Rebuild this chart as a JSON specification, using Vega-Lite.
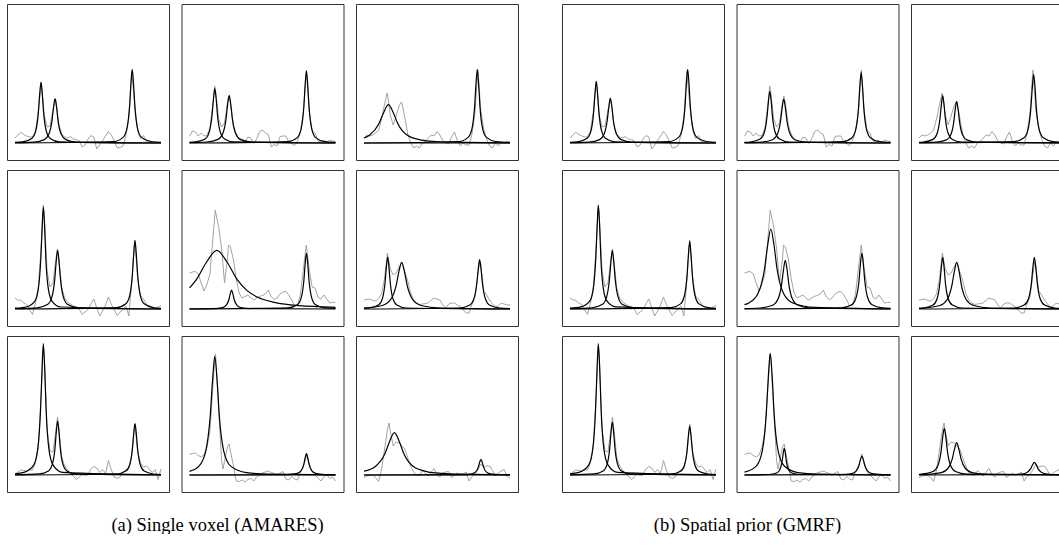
{
"$schema": "https://vega.github.io/schema/vega-lite/v6.json",
"padding": {"left": 6, "top": 3, "right": 0, "bottom": 0},
"background": "white",
"config": {"view": {"stroke": "#333333", "strokeWidth": 1}, "concat": {"spacing": 42}, "header": {"labels": false, "title": null, "labelPadding": 0, "titlePadding": 0, "labelFontSize": 0}},
"datasets": {"s": [
{"m":"g","p":1,"x":0,"y":5},{"m":"g","p":1,"x":2,"y":8},{"m":"g","p":1,"x":4,"y":10.7},{"m":"g","p":1,"x":6,"y":8.5},{"m":"g","p":1,"x":8,"y":7},{"m":"g","p":1,"x":10,"y":6},{"m":"g","p":1,"x":12,"y":6},{"m":"g","p":1,"x":14,"y":12},{"m":"g","p":1,"x":16,"y":32},{"m":"g","p":1,"x":18,"y":61},{"m":"g","p":1,"x":20,"y":28},{"m":"g","p":1,"x":22,"y":16},{"m":"g","p":1,"x":24,"y":17},{"m":"g","p":1,"x":26,"y":33},{"m":"g","p":1,"x":28,"y":43},{"m":"g","p":1,"x":30,"y":19},{"m":"g","p":1,"x":32,"y":9},{"m":"g","p":1,"x":34,"y":6},{"m":"g","p":1,"x":36,"y":5},{"m":"g","p":1,"x":38,"y":6.5},{"m":"g","p":1,"x":40,"y":4},{"m":"g","p":1,"x":42,"y":3.5},{"m":"g","p":1,"x":44,"y":2},{"m":"g","p":1,"x":46,"y":-4},{"m":"g","p":1,"x":48,"y":-2},{"m":"g","p":1,"x":50,"y":4},{"m":"g","p":1,"x":52,"y":7.5},{"m":"g","p":1,"x":54,"y":6},{"m":"g","p":1,"x":56,"y":-6},{"m":"g","p":1,"x":58,"y":-2},{"m":"g","p":1,"x":60,"y":2.5},{"m":"g","p":1,"x":62,"y":7},{"m":"g","p":1,"x":64,"y":11.5},{"m":"g","p":1,"x":66,"y":8},{"m":"g","p":1,"x":68,"y":2},{"m":"g","p":1,"x":70,"y":-5},{"m":"g","p":1,"x":72,"y":-4.5},{"m":"g","p":1,"x":74,"y":-3},{"m":"g","p":1,"x":76,"y":8},{"m":"g","p":1,"x":78,"y":26},{"m":"g","p":1,"x":80,"y":72},{"m":"g","p":1,"x":82,"y":38},{"m":"g","p":1,"x":84,"y":13},{"m":"g","p":1,"x":86,"y":4.5},{"m":"g","p":1,"x":88,"y":7.5},{"m":"g","p":1,"x":90,"y":1},{"m":"g","p":1,"x":92,"y":2},{"m":"g","p":1,"x":94,"y":-1},{"m":"g","p":1,"x":96,"y":1.5},{"m":"g","p":1,"x":98,"y":0},{"m":"g","p":1,"x":100,"y":0.5},
{"m":"g","p":2,"x":0,"y":6.7},{"m":"g","p":2,"x":2,"y":12},{"m":"g","p":2,"x":4,"y":11},{"m":"g","p":2,"x":6,"y":7},{"m":"g","p":2,"x":8,"y":10},{"m":"g","p":2,"x":10,"y":7},{"m":"g","p":2,"x":12,"y":7.5},{"m":"g","p":2,"x":14,"y":15},{"m":"g","p":2,"x":16,"y":39},{"m":"g","p":2,"x":17.3,"y":57},{"m":"g","p":2,"x":18,"y":51},{"m":"g","p":2,"x":20,"y":24},{"m":"g","p":2,"x":22,"y":16},{"m":"g","p":2,"x":24,"y":20},{"m":"g","p":2,"x":26,"y":41},{"m":"g","p":2,"x":27,"y":47},{"m":"g","p":2,"x":28,"y":40},{"m":"g","p":2,"x":30,"y":18},{"m":"g","p":2,"x":32,"y":9},{"m":"g","p":2,"x":34,"y":3.3},{"m":"g","p":2,"x":36,"y":2},{"m":"g","p":2,"x":38,"y":1},{"m":"g","p":2,"x":40,"y":6},{"m":"g","p":2,"x":42,"y":5},{"m":"g","p":2,"x":44,"y":-0.5},{"m":"g","p":2,"x":46,"y":4},{"m":"g","p":2,"x":48,"y":11.5},{"m":"g","p":2,"x":50,"y":13},{"m":"g","p":2,"x":52,"y":10},{"m":"g","p":2,"x":54,"y":8.5},{"m":"g","p":2,"x":56,"y":-4},{"m":"g","p":2,"x":58,"y":-1.5},{"m":"g","p":2,"x":60,"y":-3},{"m":"g","p":2,"x":62,"y":6.5},{"m":"g","p":2,"x":64,"y":7},{"m":"g","p":2,"x":66,"y":7},{"m":"g","p":2,"x":68,"y":1},{"m":"g","p":2,"x":70,"y":-0.5},{"m":"g","p":2,"x":72,"y":-2.5},{"m":"g","p":2,"x":74,"y":2},{"m":"g","p":2,"x":76,"y":12},{"m":"g","p":2,"x":78,"y":31},{"m":"g","p":2,"x":80,"y":73},{"m":"g","p":2,"x":82,"y":32},{"m":"g","p":2,"x":84,"y":12},{"m":"g","p":2,"x":86,"y":10},{"m":"g","p":2,"x":88,"y":2},{"m":"g","p":2,"x":90,"y":1},{"m":"g","p":2,"x":92,"y":2.5},{"m":"g","p":2,"x":94,"y":0.5},{"m":"g","p":2,"x":96,"y":3},{"m":"g","p":2,"x":98,"y":2},{"m":"g","p":2,"x":100,"y":1.5},
{"m":"g","p":3,"x":0,"y":5},{"m":"g","p":3,"x":2,"y":8},{"m":"g","p":3,"x":4,"y":7},{"m":"g","p":3,"x":6,"y":8},{"m":"g","p":3,"x":8,"y":10},{"m":"g","p":3,"x":10,"y":13},{"m":"g","p":3,"x":12,"y":24},{"m":"g","p":3,"x":14,"y":38},{"m":"g","p":3,"x":15.8,"y":50},{"m":"g","p":3,"x":16,"y":49.5},{"m":"g","p":3,"x":18,"y":28},{"m":"g","p":3,"x":20,"y":18},{"m":"g","p":3,"x":22,"y":27},{"m":"g","p":3,"x":24,"y":37},{"m":"g","p":3,"x":25.5,"y":41},{"m":"g","p":3,"x":26,"y":40},{"m":"g","p":3,"x":28,"y":25},{"m":"g","p":3,"x":30,"y":9},{"m":"g","p":3,"x":32,"y":0},{"m":"g","p":3,"x":34,"y":-5},{"m":"g","p":3,"x":36,"y":-3},{"m":"g","p":3,"x":38,"y":-5},{"m":"g","p":3,"x":40,"y":0},{"m":"g","p":3,"x":42,"y":1.5},{"m":"g","p":3,"x":44,"y":5},{"m":"g","p":3,"x":46,"y":8},{"m":"g","p":3,"x":48,"y":7},{"m":"g","p":3,"x":50,"y":11.5},{"m":"g","p":3,"x":52,"y":8},{"m":"g","p":3,"x":54,"y":2},{"m":"g","p":3,"x":56,"y":0},{"m":"g","p":3,"x":58,"y":-1},{"m":"g","p":3,"x":60,"y":6},{"m":"g","p":3,"x":62,"y":11},{"m":"g","p":3,"x":64,"y":2},{"m":"g","p":3,"x":66,"y":-3},{"m":"g","p":3,"x":68,"y":0},{"m":"g","p":3,"x":70,"y":-2},{"m":"g","p":3,"x":72,"y":-2},{"m":"g","p":3,"x":74,"y":9},{"m":"g","p":3,"x":76,"y":30},{"m":"g","p":3,"x":78,"y":73},{"m":"g","p":3,"x":80,"y":33},{"m":"g","p":3,"x":82,"y":14},{"m":"g","p":3,"x":84,"y":4},{"m":"g","p":3,"x":86,"y":-3},{"m":"g","p":3,"x":88,"y":-5},{"m":"g","p":3,"x":90,"y":0},{"m":"g","p":3,"x":92,"y":-3},{"m":"g","p":3,"x":94,"y":1},{"m":"g","p":3,"x":96,"y":0},{"m":"g","p":3,"x":98,"y":2},{"m":"g","p":3,"x":100,"y":1},
{"m":"g","p":4,"x":0,"y":11},{"m":"g","p":4,"x":2,"y":9},{"m":"g","p":4,"x":4,"y":8.7},{"m":"g","p":4,"x":6,"y":6},{"m":"g","p":4,"x":8,"y":4.5},{"m":"g","p":4,"x":10,"y":-1},{"m":"g","p":4,"x":12,"y":-5.5},{"m":"g","p":4,"x":14,"y":6},{"m":"g","p":4,"x":16,"y":22},{"m":"g","p":4,"x":18,"y":64},{"m":"g","p":4,"x":19.4,"y":104},{"m":"g","p":4,"x":20,"y":95},{"m":"g","p":4,"x":22,"y":38},{"m":"g","p":4,"x":24,"y":22},{"m":"g","p":4,"x":26,"y":26},{"m":"g","p":4,"x":28,"y":50},{"m":"g","p":4,"x":29,"y":60},{"m":"g","p":4,"x":30,"y":49},{"m":"g","p":4,"x":32,"y":21},{"m":"g","p":4,"x":34,"y":11},{"m":"g","p":4,"x":36,"y":7},{"m":"g","p":4,"x":38,"y":5},{"m":"g","p":4,"x":40,"y":3},{"m":"g","p":4,"x":42,"y":2.5},{"m":"g","p":4,"x":44,"y":0},{"m":"g","p":4,"x":46,"y":-5.5},{"m":"g","p":4,"x":48,"y":-3},{"m":"g","p":4,"x":50,"y":-0.5},{"m":"g","p":4,"x":52,"y":5},{"m":"g","p":4,"x":54,"y":10},{"m":"g","p":4,"x":56,"y":1},{"m":"g","p":4,"x":58,"y":-7},{"m":"g","p":4,"x":60,"y":-2},{"m":"g","p":4,"x":62,"y":4},{"m":"g","p":4,"x":64,"y":12},{"m":"g","p":4,"x":66,"y":4.5},{"m":"g","p":4,"x":68,"y":-1},{"m":"g","p":4,"x":70,"y":-6.5},{"m":"g","p":4,"x":72,"y":-3},{"m":"g","p":4,"x":74,"y":0},{"m":"g","p":4,"x":76,"y":3},{"m":"g","p":4,"x":78,"y":-7},{"m":"g","p":4,"x":80,"y":28},{"m":"g","p":4,"x":82,"y":69},{"m":"g","p":4,"x":84,"y":31},{"m":"g","p":4,"x":86,"y":13},{"m":"g","p":4,"x":88,"y":10},{"m":"g","p":4,"x":90,"y":5},{"m":"g","p":4,"x":92,"y":2},{"m":"g","p":4,"x":94,"y":1.5},{"m":"g","p":4,"x":96,"y":0.5},{"m":"g","p":4,"x":98,"y":2},{"m":"g","p":4,"x":100,"y":3.5},
{"m":"g","p":5,"x":0,"y":36},{"m":"g","p":5,"x":2,"y":37},{"m":"g","p":5,"x":4,"y":37.5},{"m":"g","p":5,"x":6,"y":35},{"m":"g","p":5,"x":8,"y":26},{"m":"g","p":5,"x":10,"y":18},{"m":"g","p":5,"x":12,"y":25},{"m":"g","p":5,"x":14,"y":35},{"m":"g","p":5,"x":16,"y":70},{"m":"g","p":5,"x":17.6,"y":98.7},{"m":"g","p":5,"x":18,"y":96},{"m":"g","p":5,"x":20,"y":82},{"m":"g","p":5,"x":22,"y":60},{"m":"g","p":5,"x":24,"y":26},{"m":"g","p":5,"x":26,"y":50},{"m":"g","p":5,"x":26.7,"y":64},{"m":"g","p":5,"x":28,"y":62},{"m":"g","p":5,"x":30,"y":50},{"m":"g","p":5,"x":32,"y":30},{"m":"g","p":5,"x":34,"y":16},{"m":"g","p":5,"x":36,"y":11},{"m":"g","p":5,"x":38,"y":12.5},{"m":"g","p":5,"x":40,"y":14},{"m":"g","p":5,"x":42,"y":11},{"m":"g","p":5,"x":44,"y":9},{"m":"g","p":5,"x":46,"y":11},{"m":"g","p":5,"x":48,"y":12.7},{"m":"g","p":5,"x":50,"y":13.5},{"m":"g","p":5,"x":52,"y":15},{"m":"g","p":5,"x":54,"y":19},{"m":"g","p":5,"x":56,"y":12},{"m":"g","p":5,"x":58,"y":9.5},{"m":"g","p":5,"x":60,"y":11},{"m":"g","p":5,"x":62,"y":15},{"m":"g","p":5,"x":64,"y":17},{"m":"g","p":5,"x":66,"y":17.7},{"m":"g","p":5,"x":68,"y":14},{"m":"g","p":5,"x":70,"y":9},{"m":"g","p":5,"x":72,"y":3},{"m":"g","p":5,"x":74,"y":3.5},{"m":"g","p":5,"x":76,"y":15},{"m":"g","p":5,"x":78,"y":40},{"m":"g","p":5,"x":80,"y":64},{"m":"g","p":5,"x":82,"y":40},{"m":"g","p":5,"x":84,"y":22},{"m":"g","p":5,"x":86,"y":21},{"m":"g","p":5,"x":88,"y":12},{"m":"g","p":5,"x":90,"y":10},{"m":"g","p":5,"x":92,"y":14},{"m":"g","p":5,"x":94,"y":10},{"m":"g","p":5,"x":96,"y":6},{"m":"g","p":5,"x":98,"y":6.5},{"m":"g","p":5,"x":100,"y":6.7},
{"m":"g","p":6,"x":0,"y":9},{"m":"g","p":6,"x":2,"y":9.5},{"m":"g","p":6,"x":4,"y":10},{"m":"g","p":6,"x":6,"y":8.5},{"m":"g","p":6,"x":8,"y":8},{"m":"g","p":6,"x":10,"y":10.5},{"m":"g","p":6,"x":12,"y":15},{"m":"g","p":6,"x":14,"y":30},{"m":"g","p":6,"x":16,"y":56},{"m":"g","p":6,"x":18,"y":40},{"m":"g","p":6,"x":20,"y":34},{"m":"g","p":6,"x":22,"y":36},{"m":"g","p":6,"x":24,"y":42},{"m":"g","p":6,"x":26,"y":47},{"m":"g","p":6,"x":28,"y":37},{"m":"g","p":6,"x":30,"y":28},{"m":"g","p":6,"x":32,"y":16},{"m":"g","p":6,"x":34,"y":9},{"m":"g","p":6,"x":36,"y":6},{"m":"g","p":6,"x":38,"y":4.5},{"m":"g","p":6,"x":40,"y":5},{"m":"g","p":6,"x":42,"y":5.5},{"m":"g","p":6,"x":44,"y":6},{"m":"g","p":6,"x":46,"y":9},{"m":"g","p":6,"x":48,"y":11},{"m":"g","p":6,"x":50,"y":10},{"m":"g","p":6,"x":52,"y":9},{"m":"g","p":6,"x":54,"y":4},{"m":"g","p":6,"x":56,"y":1},{"m":"g","p":6,"x":58,"y":5},{"m":"g","p":6,"x":60,"y":6},{"m":"g","p":6,"x":62,"y":6},{"m":"g","p":6,"x":64,"y":4},{"m":"g","p":6,"x":66,"y":2.5},{"m":"g","p":6,"x":68,"y":-1},{"m":"g","p":6,"x":70,"y":-4},{"m":"g","p":6,"x":72,"y":-4},{"m":"g","p":6,"x":74,"y":5},{"m":"g","p":6,"x":76,"y":12},{"m":"g","p":6,"x":78,"y":34},{"m":"g","p":6,"x":79.2,"y":47},{"m":"g","p":6,"x":80,"y":44},{"m":"g","p":6,"x":82,"y":18},{"m":"g","p":6,"x":84,"y":14},{"m":"g","p":6,"x":86,"y":9},{"m":"g","p":6,"x":88,"y":5},{"m":"g","p":6,"x":90,"y":2},{"m":"g","p":6,"x":92,"y":3},{"m":"g","p":6,"x":94,"y":6},{"m":"g","p":6,"x":96,"y":5},{"m":"g","p":6,"x":98,"y":4},{"m":"g","p":6,"x":100,"y":4},
{"m":"g","p":7,"x":0,"y":0.7},{"m":"g","p":7,"x":2,"y":3},{"m":"g","p":7,"x":4,"y":5},{"m":"g","p":7,"x":6,"y":4.5},{"m":"g","p":7,"x":8,"y":4},{"m":"g","p":7,"x":10,"y":5},{"m":"g","p":7,"x":12,"y":5},{"m":"g","p":7,"x":14,"y":13},{"m":"g","p":7,"x":16,"y":29},{"m":"g","p":7,"x":18,"y":82},{"m":"g","p":7,"x":19.4,"y":132},{"m":"g","p":7,"x":20,"y":119},{"m":"g","p":7,"x":22,"y":46},{"m":"g","p":7,"x":24,"y":24},{"m":"g","p":7,"x":26,"y":23},{"m":"g","p":7,"x":28,"y":45},{"m":"g","p":7,"x":29.1,"y":58},{"m":"g","p":7,"x":30,"y":47},{"m":"g","p":7,"x":32,"y":18},{"m":"g","p":7,"x":34,"y":9},{"m":"g","p":7,"x":36,"y":5},{"m":"g","p":7,"x":38,"y":1},{"m":"g","p":7,"x":40,"y":-1},{"m":"g","p":7,"x":42,"y":-4.5},{"m":"g","p":7,"x":44,"y":-2},{"m":"g","p":7,"x":46,"y":0.5},{"m":"g","p":7,"x":48,"y":-0.5},{"m":"g","p":7,"x":50,"y":0},{"m":"g","p":7,"x":52,"y":6},{"m":"g","p":7,"x":54,"y":8.5},{"m":"g","p":7,"x":56,"y":7},{"m":"g","p":7,"x":58,"y":2.5},{"m":"g","p":7,"x":60,"y":5.5},{"m":"g","p":7,"x":62,"y":1.5},{"m":"g","p":7,"x":64,"y":14.5},{"m":"g","p":7,"x":66,"y":5},{"m":"g","p":7,"x":68,"y":-2},{"m":"g","p":7,"x":70,"y":-3.5},{"m":"g","p":7,"x":72,"y":-2},{"m":"g","p":7,"x":74,"y":3},{"m":"g","p":7,"x":76,"y":5},{"m":"g","p":7,"x":78,"y":7},{"m":"g","p":7,"x":80,"y":21},{"m":"g","p":7,"x":82,"y":51},{"m":"g","p":7,"x":84,"y":23},{"m":"g","p":7,"x":86,"y":12},{"m":"g","p":7,"x":88,"y":8},{"m":"g","p":7,"x":90,"y":9},{"m":"g","p":7,"x":92,"y":6},{"m":"g","p":7,"x":94,"y":2.5},{"m":"g","p":7,"x":96,"y":5.5},{"m":"g","p":7,"x":98,"y":-4.5},{"m":"g","p":7,"x":100,"y":6},
{"m":"g","p":8,"x":0,"y":20.7},{"m":"g","p":8,"x":2,"y":21.5},{"m":"g","p":8,"x":4,"y":22},{"m":"g","p":8,"x":6,"y":19.5},{"m":"g","p":8,"x":8,"y":18},{"m":"g","p":8,"x":10,"y":20},{"m":"g","p":8,"x":12,"y":28},{"m":"g","p":8,"x":14,"y":44},{"m":"g","p":8,"x":16,"y":88},{"m":"g","p":8,"x":17.6,"y":121},{"m":"g","p":8,"x":18,"y":118},{"m":"g","p":8,"x":20,"y":66},{"m":"g","p":8,"x":22,"y":14},{"m":"g","p":8,"x":23,"y":6},{"m":"g","p":8,"x":24,"y":14},{"m":"g","p":8,"x":26,"y":28},{"m":"g","p":8,"x":27.2,"y":31},{"m":"g","p":8,"x":28,"y":24},{"m":"g","p":8,"x":30,"y":10},{"m":"g","p":8,"x":32,"y":-6},{"m":"g","p":8,"x":34,"y":-6.5},{"m":"g","p":8,"x":36,"y":-5},{"m":"g","p":8,"x":38,"y":-7},{"m":"g","p":8,"x":40,"y":-4.5},{"m":"g","p":8,"x":42,"y":-3.5},{"m":"g","p":8,"x":44,"y":-6},{"m":"g","p":8,"x":46,"y":-2},{"m":"g","p":8,"x":48,"y":0},{"m":"g","p":8,"x":50,"y":2.5},{"m":"g","p":8,"x":52,"y":3},{"m":"g","p":8,"x":54,"y":4},{"m":"g","p":8,"x":56,"y":2.5},{"m":"g","p":8,"x":58,"y":1.5},{"m":"g","p":8,"x":60,"y":-0.5},{"m":"g","p":8,"x":62,"y":2},{"m":"g","p":8,"x":64,"y":3.5},{"m":"g","p":8,"x":66,"y":-4},{"m":"g","p":8,"x":68,"y":-5},{"m":"g","p":8,"x":70,"y":-1.5},{"m":"g","p":8,"x":72,"y":-4},{"m":"g","p":8,"x":74,"y":-5},{"m":"g","p":8,"x":76,"y":3},{"m":"g","p":8,"x":78,"y":9},{"m":"g","p":8,"x":80,"y":18},{"m":"g","p":8,"x":80.4,"y":21},{"m":"g","p":8,"x":82,"y":12},{"m":"g","p":8,"x":84,"y":3},{"m":"g","p":8,"x":86,"y":0},{"m":"g","p":8,"x":88,"y":-3},{"m":"g","p":8,"x":90,"y":-6},{"m":"g","p":8,"x":92,"y":-2},{"m":"g","p":8,"x":94,"y":0.5},{"m":"g","p":8,"x":96,"y":-3.5},{"m":"g","p":8,"x":98,"y":-2},{"m":"g","p":8,"x":100,"y":-6},
{"m":"g","p":9,"x":0,"y":-2.7},{"m":"g","p":9,"x":2,"y":-1},{"m":"g","p":9,"x":4,"y":-0.5},{"m":"g","p":9,"x":6,"y":0},{"m":"g","p":9,"x":8,"y":-2.7},{"m":"g","p":9,"x":10,"y":-6.5},{"m":"g","p":9,"x":12,"y":5},{"m":"g","p":9,"x":14,"y":25},{"m":"g","p":9,"x":16,"y":45},{"m":"g","p":9,"x":17.2,"y":52},{"m":"g","p":9,"x":18,"y":44},{"m":"g","p":9,"x":20,"y":29},{"m":"g","p":9,"x":22,"y":33},{"m":"g","p":9,"x":24,"y":32},{"m":"g","p":9,"x":26,"y":29},{"m":"g","p":9,"x":28,"y":26},{"m":"g","p":9,"x":30,"y":17},{"m":"g","p":9,"x":32,"y":9},{"m":"g","p":9,"x":34,"y":3},{"m":"g","p":9,"x":36,"y":0},{"m":"g","p":9,"x":38,"y":-0.5},{"m":"g","p":9,"x":40,"y":4.5},{"m":"g","p":9,"x":42,"y":2},{"m":"g","p":9,"x":44,"y":-1},{"m":"g","p":9,"x":46,"y":3},{"m":"g","p":9,"x":48,"y":6.5},{"m":"g","p":9,"x":50,"y":0},{"m":"g","p":9,"x":52,"y":-2},{"m":"g","p":9,"x":54,"y":2},{"m":"g","p":9,"x":56,"y":3},{"m":"g","p":9,"x":58,"y":3.5},{"m":"g","p":9,"x":60,"y":-2.5},{"m":"g","p":9,"x":62,"y":0},{"m":"g","p":9,"x":64,"y":2},{"m":"g","p":9,"x":66,"y":0},{"m":"g","p":9,"x":68,"y":1},{"m":"g","p":9,"x":70,"y":3},{"m":"g","p":9,"x":72,"y":-6},{"m":"g","p":9,"x":74,"y":-1.5},{"m":"g","p":9,"x":76,"y":1},{"m":"g","p":9,"x":78,"y":5},{"m":"g","p":9,"x":80,"y":11},{"m":"g","p":9,"x":82,"y":8},{"m":"g","p":9,"x":84,"y":9},{"m":"g","p":9,"x":86,"y":9},{"m":"g","p":9,"x":88,"y":4.5},{"m":"g","p":9,"x":90,"y":-1},{"m":"g","p":9,"x":92,"y":2},{"m":"g","p":9,"x":94,"y":4},{"m":"g","p":9,"x":96,"y":5.5},{"m":"g","p":9,"x":98,"y":-1},{"m":"g","p":9,"x":100,"y":-3.5},

{"m":"a","p":1,"k":1,"x":0,"y":0.6},{"m":"a","p":1,"k":1,"x":5.2,"y":1.2},{"m":"a","p":1,"k":1,"x":11.5,"y":4.6},{"m":"a","p":1,"k":1,"x":14.2,"y":12.1},{"m":"a","p":1,"k":1,"x":16,"y":30.4},{"m":"a","p":1,"k":1,"x":16.9,"y":48.6},{"m":"a","p":1,"k":1,"x":17.8,"y":60.7},{"m":"a","p":1,"k":1,"x":18.7,"y":48.6},{"m":"a","p":1,"k":1,"x":19.6,"y":30.4},{"m":"a","p":1,"k":1,"x":21.4,"y":12.1},{"m":"a","p":1,"k":1,"x":24.1,"y":4.6},{"m":"a","p":1,"k":1,"x":30.4,"y":1.2},{"m":"a","p":1,"k":1,"x":100,"y":0},
{"m":"a","p":1,"k":2,"x":0,"y":0.3},{"m":"a","p":1,"k":2,"x":12.7,"y":0.9},{"m":"a","p":1,"k":2,"x":20.1,"y":3.4},{"m":"a","p":1,"k":2,"x":23.2,"y":8.9},{"m":"a","p":1,"k":2,"x":25.3,"y":22.2},{"m":"a","p":1,"k":2,"x":26.4,"y":35.5},{"m":"a","p":1,"k":2,"x":27.4,"y":44.4},{"m":"a","p":1,"k":2,"x":28.5,"y":35.5},{"m":"a","p":1,"k":2,"x":29.5,"y":22.2},{"m":"a","p":1,"k":2,"x":31.6,"y":8.9},{"m":"a","p":1,"k":2,"x":34.8,"y":3.4},{"m":"a","p":1,"k":2,"x":42.1,"y":0.9},{"m":"a","p":1,"k":2,"x":100,"y":0},
{"m":"a","p":1,"k":3,"x":0,"y":0},{"m":"a","p":1,"k":3,"x":67.7,"y":1.5},{"m":"a","p":1,"k":3,"x":74,"y":5.6},{"m":"a","p":1,"k":3,"x":76.7,"y":14.7},{"m":"a","p":1,"k":3,"x":78.5,"y":36.9},{"m":"a","p":1,"k":3,"x":79.4,"y":59},{"m":"a","p":1,"k":3,"x":80.3,"y":73.7},{"m":"a","p":1,"k":3,"x":81.2,"y":59},{"m":"a","p":1,"k":3,"x":82.1,"y":36.9},{"m":"a","p":1,"k":3,"x":83.9,"y":14.7},{"m":"a","p":1,"k":3,"x":86.6,"y":5.6},{"m":"a","p":1,"k":3,"x":92.9,"y":1.5},{"m":"a","p":1,"k":3,"x":100,"y":0.6},

{"m":"a","p":2,"k":1,"x":0,"y":0.6},{"m":"a","p":2,"k":1,"x":4,"y":1.1},{"m":"a","p":2,"k":1,"x":10.7,"y":4.1},{"m":"a","p":2,"k":1,"x":13.5,"y":10.9},{"m":"a","p":2,"k":1,"x":15.4,"y":27.2},{"m":"a","p":2,"k":1,"x":16.4,"y":43.5},{"m":"a","p":2,"k":1,"x":17.3,"y":54.4},{"m":"a","p":2,"k":1,"x":18.3,"y":43.5},{"m":"a","p":2,"k":1,"x":19.2,"y":27.2},{"m":"a","p":2,"k":1,"x":21.1,"y":10.9},{"m":"a","p":2,"k":1,"x":24,"y":4.1},{"m":"a","p":2,"k":1,"x":30.6,"y":1.1},{"m":"a","p":2,"k":1,"x":100,"y":0},
{"m":"a","p":2,"k":2,"x":0,"y":0.3},{"m":"a","p":2,"k":2,"x":11.8,"y":1},{"m":"a","p":2,"k":2,"x":19.5,"y":3.6},{"m":"a","p":2,"k":2,"x":22.8,"y":9.5},{"m":"a","p":2,"k":2,"x":25,"y":23.9},{"m":"a","p":2,"k":2,"x":26.1,"y":38.2},{"m":"a","p":2,"k":2,"x":27.2,"y":47.7},{"m":"a","p":2,"k":2,"x":28.3,"y":38.2},{"m":"a","p":2,"k":2,"x":29.4,"y":23.9},{"m":"a","p":2,"k":2,"x":31.6,"y":9.5},{"m":"a","p":2,"k":2,"x":34.9,"y":3.6},{"m":"a","p":2,"k":2,"x":42.6,"y":1},{"m":"a","p":2,"k":2,"x":100,"y":0},
{"m":"a","p":2,"k":3,"x":0,"y":0},{"m":"a","p":2,"k":3,"x":67.5,"y":1.4},{"m":"a","p":2,"k":3,"x":73.8,"y":5.4},{"m":"a","p":2,"k":3,"x":76.5,"y":14.4},{"m":"a","p":2,"k":3,"x":78.3,"y":36},{"m":"a","p":2,"k":3,"x":79.2,"y":57.6},{"m":"a","p":2,"k":3,"x":80.1,"y":72},{"m":"a","p":2,"k":3,"x":81,"y":57.6},{"m":"a","p":2,"k":3,"x":81.9,"y":36},{"m":"a","p":2,"k":3,"x":83.7,"y":14.4},{"m":"a","p":2,"k":3,"x":86.4,"y":5.4},{"m":"a","p":2,"k":3,"x":92.7,"y":1.4},{"m":"a","p":2,"k":3,"x":100,"y":0.6},

{"m":"a","p":3,"k":1,"x":0,"y":5},{"m":"a","p":3,"k":1,"x":3.7,"y":7.7},{"m":"a","p":3,"k":1,"x":10.2,"y":19.2},{"m":"a","p":3,"k":1,"x":13.5,"y":30.6},{"m":"a","p":3,"k":1,"x":16.7,"y":38.3},{"m":"a","p":3,"k":1,"x":20,"y":30.6},{"m":"a","p":3,"k":1,"x":23.2,"y":19.2},{"m":"a","p":3,"k":1,"x":29.7,"y":7.7},{"m":"a","p":3,"k":1,"x":39.5,"y":2.9},{"m":"a","p":3,"k":1,"x":49.2,"y":1.5},{"m":"a","p":3,"k":1,"x":62.2,"y":0.8},{"m":"a","p":3,"k":1,"x":100,"y":0.2},
{"m":"a","p":3,"k":2,"x":0,"y":0},{"m":"a","p":3,"k":2,"x":100,"y":0},
{"m":"a","p":3,"k":3,"x":0,"y":0},{"m":"a","p":3,"k":3,"x":65,"y":1.5},{"m":"a","p":3,"k":3,"x":71.3,"y":5.6},{"m":"a","p":3,"k":3,"x":74,"y":14.7},{"m":"a","p":3,"k":3,"x":75.8,"y":36.9},{"m":"a","p":3,"k":3,"x":76.7,"y":59},{"m":"a","p":3,"k":3,"x":77.6,"y":73.7},{"m":"a","p":3,"k":3,"x":78.5,"y":59},{"m":"a","p":3,"k":3,"x":79.4,"y":36.9},{"m":"a","p":3,"k":3,"x":81.2,"y":14.7},{"m":"a","p":3,"k":3,"x":83.9,"y":5.6},{"m":"a","p":3,"k":3,"x":90.2,"y":1.5},{"m":"a","p":3,"k":3,"x":100,"y":0.5},

{"m":"a","p":4,"k":1,"x":0,"y":0.8},{"m":"a","p":4,"k":1,"x":7.5,"y":2},{"m":"a","p":4,"k":1,"x":13.5,"y":7.7},{"m":"a","p":4,"k":1,"x":16,"y":20.4},{"m":"a","p":4,"k":1,"x":17.7,"y":51},{"m":"a","p":4,"k":1,"x":18.6,"y":81.6},{"m":"a","p":4,"k":1,"x":19.4,"y":102},{"m":"a","p":4,"k":1,"x":20.3,"y":81.6},{"m":"a","p":4,"k":1,"x":21.1,"y":51},{"m":"a","p":4,"k":1,"x":22.8,"y":20.4},{"m":"a","p":4,"k":1,"x":25.4,"y":7.7},{"m":"a","p":4,"k":1,"x":31.3,"y":2},{"m":"a","p":4,"k":1,"x":100,"y":0},
{"m":"a","p":4,"k":2,"x":0,"y":0.3},{"m":"a","p":4,"k":2,"x":15.2,"y":1.2},{"m":"a","p":4,"k":2,"x":22.2,"y":4.4},{"m":"a","p":4,"k":2,"x":25.2,"y":11.7},{"m":"a","p":4,"k":2,"x":27.2,"y":29.4},{"m":"a","p":4,"k":2,"x":28.2,"y":47},{"m":"a","p":4,"k":2,"x":29.2,"y":58.7},{"m":"a","p":4,"k":2,"x":30.2,"y":47},{"m":"a","p":4,"k":2,"x":31.2,"y":29.4},{"m":"a","p":4,"k":2,"x":33.2,"y":11.7},{"m":"a","p":4,"k":2,"x":36.2,"y":4.4},{"m":"a","p":4,"k":2,"x":43.2,"y":1.2},{"m":"a","p":4,"k":2,"x":100,"y":0},
{"m":"a","p":4,"k":3,"x":0,"y":0},{"m":"a","p":4,"k":3,"x":69.6,"y":1.4},{"m":"a","p":4,"k":3,"x":75.9,"y":5.2},{"m":"a","p":4,"k":3,"x":78.6,"y":13.7},{"m":"a","p":4,"k":3,"x":80.4,"y":34.2},{"m":"a","p":4,"k":3,"x":81.3,"y":54.6},{"m":"a","p":4,"k":3,"x":82.2,"y":68.3},{"m":"a","p":4,"k":3,"x":83.1,"y":54.6},{"m":"a","p":4,"k":3,"x":84,"y":34.2},{"m":"a","p":4,"k":3,"x":85.8,"y":13.7},{"m":"a","p":4,"k":3,"x":88.5,"y":5.2},{"m":"a","p":4,"k":3,"x":94.8,"y":1.4},{"m":"a","p":4,"k":3,"x":100,"y":0.7},

{"m":"a","p":5,"k":1,"x":0,"y":21.1},{"m":"a","p":5,"k":1,"x":4.7,"y":29.4},{"m":"a","p":5,"k":1,"x":11.7,"y":47},{"m":"a","p":5,"k":1,"x":18.7,"y":58.7},{"m":"a","p":5,"k":1,"x":25.7,"y":47},{"m":"a","p":5,"k":1,"x":32.7,"y":29.4},{"m":"a","p":5,"k":1,"x":39.7,"y":18.1},{"m":"a","p":5,"k":1,"x":46.7,"y":11.7},{"m":"a","p":5,"k":1,"x":57.2,"y":6.9},{"m":"a","p":5,"k":1,"x":67.7,"y":4.4},{"m":"a","p":5,"k":1,"x":88.7,"y":2.3},{"m":"a","p":5,"k":1,"x":100,"y":1.7},
{"m":"a","p":5,"k":2,"x":0,"y":0.1},{"m":"a","p":5,"k":2,"x":16.2,"y":0.4},{"m":"a","p":5,"k":2,"x":22.5,"y":1.4},{"m":"a","p":5,"k":2,"x":25.2,"y":3.8},{"m":"a","p":5,"k":2,"x":27,"y":9.5},{"m":"a","p":5,"k":2,"x":27.9,"y":15.2},{"m":"a","p":5,"k":2,"x":28.8,"y":19},{"m":"a","p":5,"k":2,"x":29.7,"y":15.2},{"m":"a","p":5,"k":2,"x":30.6,"y":9.5},{"m":"a","p":5,"k":2,"x":32.4,"y":3.8},{"m":"a","p":5,"k":2,"x":35.1,"y":1.4},{"m":"a","p":5,"k":2,"x":41.4,"y":0.4},{"m":"a","p":5,"k":2,"x":100,"y":0},
{"m":"a","p":5,"k":3,"x":0,"y":0},{"m":"a","p":5,"k":3,"x":67.5,"y":1.1},{"m":"a","p":5,"k":3,"x":73.8,"y":4.2},{"m":"a","p":5,"k":3,"x":76.5,"y":11.2},{"m":"a","p":5,"k":3,"x":78.3,"y":28},{"m":"a","p":5,"k":3,"x":79.2,"y":44.8},{"m":"a","p":5,"k":3,"x":80.1,"y":56},{"m":"a","p":5,"k":3,"x":81,"y":44.8},{"m":"a","p":5,"k":3,"x":81.9,"y":28},{"m":"a","p":5,"k":3,"x":83.7,"y":11.2},{"m":"a","p":5,"k":3,"x":86.4,"y":4.2},{"m":"a","p":5,"k":3,"x":92.7,"y":1.1},{"m":"a","p":5,"k":3,"x":100,"y":0.5},

{"m":"a","p":6,"k":1,"x":0,"y":0.6},{"m":"a","p":6,"k":1,"x":3.6,"y":1},{"m":"a","p":6,"k":1,"x":9.9,"y":3.9},{"m":"a","p":6,"k":1,"x":12.6,"y":10.4},{"m":"a","p":6,"k":1,"x":14.4,"y":26},{"m":"a","p":6,"k":1,"x":15.3,"y":41.6},{"m":"a","p":6,"k":1,"x":16.2,"y":52},{"m":"a","p":6,"k":1,"x":17.1,"y":41.6},{"m":"a","p":6,"k":1,"x":18,"y":26},{"m":"a","p":6,"k":1,"x":19.8,"y":10.4},{"m":"a","p":6,"k":1,"x":22.5,"y":3.9},{"m":"a","p":6,"k":1,"x":28.8,"y":1},{"m":"a","p":6,"k":1,"x":100,"y":0},
{"m":"a","p":6,"k":2,"x":0,"y":1},{"m":"a","p":6,"k":2,"x":12.5,"y":3.5},{"m":"a","p":6,"k":2,"x":18.2,"y":9.3},{"m":"a","p":6,"k":2,"x":22,"y":23.4},{"m":"a","p":6,"k":2,"x":23.9,"y":37.4},{"m":"a","p":6,"k":2,"x":25.8,"y":46.7},{"m":"a","p":6,"k":2,"x":27.7,"y":37.4},{"m":"a","p":6,"k":2,"x":29.6,"y":23.4},{"m":"a","p":6,"k":2,"x":33.4,"y":9.3},{"m":"a","p":6,"k":2,"x":39.1,"y":3.5},{"m":"a","p":6,"k":2,"x":52.4,"y":0.9},{"m":"a","p":6,"k":2,"x":100,"y":0.1},
{"m":"a","p":6,"k":3,"x":0,"y":0},{"m":"a","p":6,"k":3,"x":65.2,"y":1},{"m":"a","p":6,"k":3,"x":72.2,"y":3.7},{"m":"a","p":6,"k":3,"x":75.2,"y":9.9},{"m":"a","p":6,"k":3,"x":77.2,"y":24.7},{"m":"a","p":6,"k":3,"x":78.2,"y":39.4},{"m":"a","p":6,"k":3,"x":79.2,"y":49.3},{"m":"a","p":6,"k":3,"x":80.2,"y":39.4},{"m":"a","p":6,"k":3,"x":81.2,"y":24.7},{"m":"a","p":6,"k":3,"x":83.2,"y":9.9},{"m":"a","p":6,"k":3,"x":86.2,"y":3.7},{"m":"a","p":6,"k":3,"x":93.2,"y":1},{"m":"a","p":6,"k":3,"x":100,"y":0.5},

{"m":"a","p":7,"k":1,"x":0,"y":1.2},{"m":"a","p":7,"k":1,"x":6.1,"y":2.6},{"m":"a","p":7,"k":1,"x":12.8,"y":9.9},{"m":"a","p":7,"k":1,"x":15.6,"y":26.1},{"m":"a","p":7,"k":1,"x":17.5,"y":65.4},{"m":"a","p":7,"k":1,"x":18.5,"y":104.6},{"m":"a","p":7,"k":1,"x":19.4,"y":130.7},{"m":"a","p":7,"k":1,"x":20.4,"y":104.6},{"m":"a","p":7,"k":1,"x":21.3,"y":65.4},{"m":"a","p":7,"k":1,"x":23.2,"y":26.1},{"m":"a","p":7,"k":1,"x":26.1,"y":9.9},{"m":"a","p":7,"k":1,"x":32.7,"y":2.6},{"m":"a","p":7,"k":1,"x":100,"y":0},
{"m":"a","p":7,"k":2,"x":0,"y":0.2},{"m":"a","p":7,"k":2,"x":16.6,"y":1.1},{"m":"a","p":7,"k":2,"x":22.9,"y":4.1},{"m":"a","p":7,"k":2,"x":25.6,"y":10.8},{"m":"a","p":7,"k":2,"x":27.4,"y":27},{"m":"a","p":7,"k":2,"x":28.3,"y":43.2},{"m":"a","p":7,"k":2,"x":29.2,"y":54},{"m":"a","p":7,"k":2,"x":30.1,"y":43.2},{"m":"a","p":7,"k":2,"x":31,"y":27},{"m":"a","p":7,"k":2,"x":32.8,"y":10.8},{"m":"a","p":7,"k":2,"x":35.5,"y":4.1},{"m":"a","p":7,"k":2,"x":41.8,"y":1.1},{"m":"a","p":7,"k":2,"x":100,"y":0},
{"m":"a","p":7,"k":3,"x":0,"y":0},{"m":"a","p":7,"k":3,"x":69.6,"y":1},{"m":"a","p":7,"k":3,"x":75.9,"y":3.9},{"m":"a","p":7,"k":3,"x":78.6,"y":10.3},{"m":"a","p":7,"k":3,"x":80.4,"y":25.7},{"m":"a","p":7,"k":3,"x":81.3,"y":41},{"m":"a","p":7,"k":3,"x":82.2,"y":51.3},{"m":"a","p":7,"k":3,"x":83.1,"y":41},{"m":"a","p":7,"k":3,"x":84,"y":25.7},{"m":"a","p":7,"k":3,"x":85.8,"y":10.3},{"m":"a","p":7,"k":3,"x":88.5,"y":3.9},{"m":"a","p":7,"k":3,"x":94.8,"y":1},{"m":"a","p":7,"k":3,"x":100,"y":0.5},

{"m":"a","p":8,"k":1,"x":0,"y":3.7},{"m":"a","p":8,"k":1,"x":6.5,"y":8.9},{"m":"a","p":8,"k":1,"x":11.1,"y":23.7},{"m":"a","p":8,"k":1,"x":14.2,"y":59.2},{"m":"a","p":8,"k":1,"x":15.8,"y":94.6},{"m":"a","p":8,"k":1,"x":17.3,"y":118.3},{"m":"a","p":8,"k":1,"x":18.9,"y":94.6},{"m":"a","p":8,"k":1,"x":20.4,"y":59.2},{"m":"a","p":8,"k":1,"x":23.5,"y":23.7},{"m":"a","p":8,"k":1,"x":28.2,"y":8.9},{"m":"a","p":8,"k":1,"x":39,"y":2.4},{"m":"a","p":8,"k":1,"x":54.5,"y":0.8},{"m":"a","p":8,"k":1,"x":100,"y":0.2},
{"m":"a","p":8,"k":2,"x":0,"y":0},{"m":"a","p":8,"k":2,"x":100,"y":0},
{"m":"a","p":8,"k":3,"x":0,"y":0},{"m":"a","p":8,"k":3,"x":67.5,"y":0.4},{"m":"a","p":8,"k":3,"x":73.8,"y":1.6},{"m":"a","p":8,"k":3,"x":76.5,"y":4.3},{"m":"a","p":8,"k":3,"x":78.3,"y":10.7},{"m":"a","p":8,"k":3,"x":79.2,"y":17},{"m":"a","p":8,"k":3,"x":80.1,"y":21.3},{"m":"a","p":8,"k":3,"x":81,"y":17},{"m":"a","p":8,"k":3,"x":81.9,"y":10.7},{"m":"a","p":8,"k":3,"x":83.7,"y":4.3},{"m":"a","p":8,"k":3,"x":86.4,"y":1.6},{"m":"a","p":8,"k":3,"x":92.7,"y":0.4},{"m":"a","p":8,"k":3,"x":100,"y":0.2},

{"m":"a","p":9,"k":1,"x":0,"y":3.8},{"m":"a","p":9,"k":1,"x":7.8,"y":8.5},{"m":"a","p":9,"k":1,"x":14.3,"y":21.2},{"m":"a","p":9,"k":1,"x":17.6,"y":33.8},{"m":"a","p":9,"k":1,"x":20.8,"y":42.3},{"m":"a","p":9,"k":1,"x":24.1,"y":33.8},{"m":"a","p":9,"k":1,"x":27.3,"y":21.2},{"m":"a","p":9,"k":1,"x":33.8,"y":8.5},{"m":"a","p":9,"k":1,"x":43.6,"y":3.2},{"m":"a","p":9,"k":1,"x":53.3,"y":1.6},{"m":"a","p":9,"k":1,"x":66.3,"y":0.8},{"m":"a","p":9,"k":1,"x":100,"y":0.3},
{"m":"a","p":9,"k":2,"x":0,"y":0},{"m":"a","p":9,"k":2,"x":100,"y":0},
{"m":"a","p":9,"k":3,"x":0,"y":0},{"m":"a","p":9,"k":3,"x":67.5,"y":0.3},{"m":"a","p":9,"k":3,"x":73.8,"y":1.2},{"m":"a","p":9,"k":3,"x":76.5,"y":3.1},{"m":"a","p":9,"k":3,"x":78.3,"y":7.9},{"m":"a","p":9,"k":3,"x":79.2,"y":12.6},{"m":"a","p":9,"k":3,"x":80.1,"y":15.7},{"m":"a","p":9,"k":3,"x":81,"y":12.6},{"m":"a","p":9,"k":3,"x":81.9,"y":7.9},{"m":"a","p":9,"k":3,"x":83.7,"y":3.1},{"m":"a","p":9,"k":3,"x":86.4,"y":1.2},{"m":"a","p":9,"k":3,"x":92.7,"y":0.3},{"m":"a","p":9,"k":3,"x":100,"y":0.2},

{"m":"b","p":1,"k":1,"x":0,"y":0.6},{"m":"b","p":1,"k":1,"x":5.4,"y":1.2},{"m":"b","p":1,"k":1,"x":11.7,"y":4.7},{"m":"b","p":1,"k":1,"x":14.4,"y":12.3},{"m":"b","p":1,"k":1,"x":16.2,"y":30.9},{"m":"b","p":1,"k":1,"x":17.1,"y":49.4},{"m":"b","p":1,"k":1,"x":18,"y":61.7},{"m":"b","p":1,"k":1,"x":18.9,"y":49.4},{"m":"b","p":1,"k":1,"x":19.8,"y":30.9},{"m":"b","p":1,"k":1,"x":21.6,"y":12.3},{"m":"b","p":1,"k":1,"x":24.3,"y":4.7},{"m":"b","p":1,"k":1,"x":30.6,"y":1.2},{"m":"b","p":1,"k":1,"x":100,"y":0},
{"m":"b","p":1,"k":2,"x":0,"y":0.3},{"m":"b","p":1,"k":2,"x":12.9,"y":0.9},{"m":"b","p":1,"k":2,"x":20.3,"y":3.4},{"m":"b","p":1,"k":2,"x":23.4,"y":9},{"m":"b","p":1,"k":2,"x":25.5,"y":22.5},{"m":"b","p":1,"k":2,"x":26.6,"y":36},{"m":"b","p":1,"k":2,"x":27.6,"y":45},{"m":"b","p":1,"k":2,"x":28.7,"y":36},{"m":"b","p":1,"k":2,"x":29.7,"y":22.5},{"m":"b","p":1,"k":2,"x":31.8,"y":9},{"m":"b","p":1,"k":2,"x":35,"y":3.4},{"m":"b","p":1,"k":2,"x":42.3,"y":0.9},{"m":"b","p":1,"k":2,"x":100,"y":0},
{"m":"b","p":1,"k":3,"x":0,"y":0},{"m":"b","p":1,"k":3,"x":68,"y":1.5},{"m":"b","p":1,"k":3,"x":74.3,"y":5.6},{"m":"b","p":1,"k":3,"x":77,"y":14.7},{"m":"b","p":1,"k":3,"x":78.8,"y":36.9},{"m":"b","p":1,"k":3,"x":79.7,"y":59},{"m":"b","p":1,"k":3,"x":80.6,"y":73.7},{"m":"b","p":1,"k":3,"x":81.5,"y":59},{"m":"b","p":1,"k":3,"x":82.4,"y":36.9},{"m":"b","p":1,"k":3,"x":84.2,"y":14.7},{"m":"b","p":1,"k":3,"x":86.9,"y":5.6},{"m":"b","p":1,"k":3,"x":93.2,"y":1.5},{"m":"b","p":1,"k":3,"x":100,"y":0.6},

{"m":"b","p":2,"k":1,"x":0,"y":0.6},{"m":"b","p":2,"k":1,"x":4,"y":1},{"m":"b","p":2,"k":1,"x":10.7,"y":3.9},{"m":"b","p":2,"k":1,"x":13.5,"y":10.3},{"m":"b","p":2,"k":1,"x":15.4,"y":25.9},{"m":"b","p":2,"k":1,"x":16.4,"y":41.4},{"m":"b","p":2,"k":1,"x":17.3,"y":51.7},{"m":"b","p":2,"k":1,"x":18.3,"y":41.4},{"m":"b","p":2,"k":1,"x":19.2,"y":25.9},{"m":"b","p":2,"k":1,"x":21.1,"y":10.3},{"m":"b","p":2,"k":1,"x":24,"y":3.9},{"m":"b","p":2,"k":1,"x":30.6,"y":1},{"m":"b","p":2,"k":1,"x":100,"y":0},
{"m":"b","p":2,"k":2,"x":0,"y":0.3},{"m":"b","p":2,"k":2,"x":11.5,"y":0.9},{"m":"b","p":2,"k":2,"x":19.2,"y":3.3},{"m":"b","p":2,"k":2,"x":22.5,"y":8.8},{"m":"b","p":2,"k":2,"x":24.7,"y":22},{"m":"b","p":2,"k":2,"x":25.8,"y":35.2},{"m":"b","p":2,"k":2,"x":26.9,"y":44},{"m":"b","p":2,"k":2,"x":28,"y":35.2},{"m":"b","p":2,"k":2,"x":29.1,"y":22},{"m":"b","p":2,"k":2,"x":31.3,"y":8.8},{"m":"b","p":2,"k":2,"x":34.6,"y":3.3},{"m":"b","p":2,"k":2,"x":42.3,"y":0.9},{"m":"b","p":2,"k":2,"x":100,"y":0},
{"m":"b","p":2,"k":3,"x":0,"y":0},{"m":"b","p":2,"k":3,"x":67.3,"y":1.4},{"m":"b","p":2,"k":3,"x":73.6,"y":5.3},{"m":"b","p":2,"k":3,"x":76.3,"y":14.1},{"m":"b","p":2,"k":3,"x":78.1,"y":35.4},{"m":"b","p":2,"k":3,"x":79,"y":56.6},{"m":"b","p":2,"k":3,"x":79.9,"y":70.7},{"m":"b","p":2,"k":3,"x":80.8,"y":56.6},{"m":"b","p":2,"k":3,"x":81.7,"y":35.4},{"m":"b","p":2,"k":3,"x":83.5,"y":14.1},{"m":"b","p":2,"k":3,"x":86.2,"y":5.3},{"m":"b","p":2,"k":3,"x":92.5,"y":1.4},{"m":"b","p":2,"k":3,"x":100,"y":0.6},

{"m":"b","p":3,"k":1,"x":0,"y":0.6},{"m":"b","p":3,"k":1,"x":2.9,"y":0.9},{"m":"b","p":3,"k":1,"x":9.6,"y":3.6},{"m":"b","p":3,"k":1,"x":12.4,"y":9.5},{"m":"b","p":3,"k":1,"x":14.3,"y":23.7},{"m":"b","p":3,"k":1,"x":15.3,"y":37.8},{"m":"b","p":3,"k":1,"x":16.2,"y":47.3},{"m":"b","p":3,"k":1,"x":17.2,"y":37.8},{"m":"b","p":3,"k":1,"x":18.1,"y":23.7},{"m":"b","p":3,"k":1,"x":20,"y":9.5},{"m":"b","p":3,"k":1,"x":22.9,"y":3.6},{"m":"b","p":3,"k":1,"x":29.5,"y":0.9},{"m":"b","p":3,"k":1,"x":100,"y":0},
{"m":"b","p":3,"k":2,"x":0,"y":0.3},{"m":"b","p":3,"k":2,"x":11.8,"y":0.8},{"m":"b","p":3,"k":2,"x":18.8,"y":3.1},{"m":"b","p":3,"k":2,"x":21.8,"y":8.3},{"m":"b","p":3,"k":2,"x":23.8,"y":20.9},{"m":"b","p":3,"k":2,"x":24.8,"y":33.4},{"m":"b","p":3,"k":2,"x":25.8,"y":41.7},{"m":"b","p":3,"k":2,"x":26.8,"y":33.4},{"m":"b","p":3,"k":2,"x":27.8,"y":20.9},{"m":"b","p":3,"k":2,"x":29.8,"y":8.3},{"m":"b","p":3,"k":2,"x":32.8,"y":3.1},{"m":"b","p":3,"k":2,"x":39.8,"y":0.8},{"m":"b","p":3,"k":2,"x":100,"y":0},
{"m":"b","p":3,"k":3,"x":0,"y":0},{"m":"b","p":3,"k":3,"x":65.2,"y":1.4},{"m":"b","p":3,"k":3,"x":71.9,"y":5.2},{"m":"b","p":3,"k":3,"x":74.7,"y":13.7},{"m":"b","p":3,"k":3,"x":76.6,"y":34.4},{"m":"b","p":3,"k":3,"x":77.6,"y":55},{"m":"b","p":3,"k":3,"x":78.5,"y":68.7},{"m":"b","p":3,"k":3,"x":79.5,"y":55},{"m":"b","p":3,"k":3,"x":80.4,"y":34.4},{"m":"b","p":3,"k":3,"x":82.3,"y":13.7},{"m":"b","p":3,"k":3,"x":85.2,"y":5.2},{"m":"b","p":3,"k":3,"x":91.8,"y":1.4},{"m":"b","p":3,"k":3,"x":100,"y":0.5},

{"m":"b","p":4,"k":1,"x":0,"y":0.8},{"m":"b","p":4,"k":1,"x":7.5,"y":2.1},{"m":"b","p":4,"k":1,"x":13.5,"y":7.8},{"m":"b","p":4,"k":1,"x":16,"y":20.7},{"m":"b","p":4,"k":1,"x":17.7,"y":51.9},{"m":"b","p":4,"k":1,"x":18.6,"y":83},{"m":"b","p":4,"k":1,"x":19.4,"y":103.7},{"m":"b","p":4,"k":1,"x":20.3,"y":83},{"m":"b","p":4,"k":1,"x":21.1,"y":51.9},{"m":"b","p":4,"k":1,"x":22.8,"y":20.7},{"m":"b","p":4,"k":1,"x":25.4,"y":7.8},{"m":"b","p":4,"k":1,"x":31.3,"y":2.1},{"m":"b","p":4,"k":1,"x":100,"y":0},
{"m":"b","p":4,"k":2,"x":0,"y":0.3},{"m":"b","p":4,"k":2,"x":15,"y":1.2},{"m":"b","p":4,"k":2,"x":22,"y":4.4},{"m":"b","p":4,"k":2,"x":25,"y":11.7},{"m":"b","p":4,"k":2,"x":27,"y":29.2},{"m":"b","p":4,"k":2,"x":28,"y":46.6},{"m":"b","p":4,"k":2,"x":29,"y":58.3},{"m":"b","p":4,"k":2,"x":30,"y":46.6},{"m":"b","p":4,"k":2,"x":31,"y":29.2},{"m":"b","p":4,"k":2,"x":33,"y":11.7},{"m":"b","p":4,"k":2,"x":36,"y":4.4},{"m":"b","p":4,"k":2,"x":43,"y":1.2},{"m":"b","p":4,"k":2,"x":100,"y":0},
{"m":"b","p":4,"k":3,"x":0,"y":0},{"m":"b","p":4,"k":3,"x":69.4,"y":1.4},{"m":"b","p":4,"k":3,"x":75.7,"y":5.1},{"m":"b","p":4,"k":3,"x":78.4,"y":13.5},{"m":"b","p":4,"k":3,"x":80.2,"y":33.9},{"m":"b","p":4,"k":3,"x":81.1,"y":54.2},{"m":"b","p":4,"k":3,"x":82,"y":67.7},{"m":"b","p":4,"k":3,"x":82.9,"y":54.2},{"m":"b","p":4,"k":3,"x":83.8,"y":33.9},{"m":"b","p":4,"k":3,"x":85.6,"y":13.5},{"m":"b","p":4,"k":3,"x":88.3,"y":5.1},{"m":"b","p":4,"k":3,"x":94.6,"y":1.4},{"m":"b","p":4,"k":3,"x":100,"y":0.7},

{"m":"b","p":5,"k":1,"x":0,"y":4.3},{"m":"b","p":5,"k":1,"x":3,"y":6},{"m":"b","p":5,"k":1,"x":9.4,"y":16},{"m":"b","p":5,"k":1,"x":13.7,"y":40},{"m":"b","p":5,"k":1,"x":15.9,"y":64},{"m":"b","p":5,"k":1,"x":18,"y":80},{"m":"b","p":5,"k":1,"x":20.2,"y":64},{"m":"b","p":5,"k":1,"x":22.3,"y":40},{"m":"b","p":5,"k":1,"x":26.6,"y":16},{"m":"b","p":5,"k":1,"x":33.1,"y":6},{"m":"b","p":5,"k":1,"x":48.1,"y":1.6},{"m":"b","p":5,"k":1,"x":100,"y":0.2},
{"m":"b","p":5,"k":2,"x":0,"y":0.4},{"m":"b","p":5,"k":2,"x":10.4,"y":1},{"m":"b","p":5,"k":2,"x":19.2,"y":3.7},{"m":"b","p":5,"k":2,"x":22.9,"y":9.7},{"m":"b","p":5,"k":2,"x":25.4,"y":24.4},{"m":"b","p":5,"k":2,"x":26.7,"y":39},{"m":"b","p":5,"k":2,"x":27.9,"y":48.7},{"m":"b","p":5,"k":2,"x":29.2,"y":39},{"m":"b","p":5,"k":2,"x":30.4,"y":24.4},{"m":"b","p":5,"k":2,"x":32.9,"y":9.7},{"m":"b","p":5,"k":2,"x":36.7,"y":3.7},{"m":"b","p":5,"k":2,"x":45.4,"y":1},{"m":"b","p":5,"k":2,"x":100,"y":0},
{"m":"b","p":5,"k":3,"x":0,"y":0},{"m":"b","p":5,"k":3,"x":66.4,"y":1.1},{"m":"b","p":5,"k":3,"x":73.4,"y":4.2},{"m":"b","p":5,"k":3,"x":76.4,"y":11.2},{"m":"b","p":5,"k":3,"x":78.4,"y":28},{"m":"b","p":5,"k":3,"x":79.4,"y":44.8},{"m":"b","p":5,"k":3,"x":80.4,"y":56},{"m":"b","p":5,"k":3,"x":81.4,"y":44.8},{"m":"b","p":5,"k":3,"x":82.4,"y":28},{"m":"b","p":5,"k":3,"x":84.4,"y":11.2},{"m":"b","p":5,"k":3,"x":87.4,"y":4.2},{"m":"b","p":5,"k":3,"x":94.4,"y":1.1},{"m":"b","p":5,"k":3,"x":100,"y":0.6},

{"m":"b","p":6,"k":1,"x":0,"y":0.7},{"m":"b","p":6,"k":1,"x":2.9,"y":1},{"m":"b","p":6,"k":1,"x":9.6,"y":3.9},{"m":"b","p":6,"k":1,"x":12.4,"y":10.3},{"m":"b","p":6,"k":1,"x":14.3,"y":25.9},{"m":"b","p":6,"k":1,"x":15.3,"y":41.4},{"m":"b","p":6,"k":1,"x":16.2,"y":51.7},{"m":"b","p":6,"k":1,"x":17.2,"y":41.4},{"m":"b","p":6,"k":1,"x":18.1,"y":25.9},{"m":"b","p":6,"k":1,"x":20,"y":10.3},{"m":"b","p":6,"k":1,"x":22.9,"y":3.9},{"m":"b","p":6,"k":1,"x":29.5,"y":1},{"m":"b","p":6,"k":1,"x":100,"y":0},
{"m":"b","p":6,"k":2,"x":0,"y":0.7},{"m":"b","p":6,"k":2,"x":2.7,"y":0.9},{"m":"b","p":6,"k":2,"x":14.3,"y":3.5},{"m":"b","p":6,"k":2,"x":19.2,"y":9.3},{"m":"b","p":6,"k":2,"x":22.5,"y":23.4},{"m":"b","p":6,"k":2,"x":24.2,"y":37.4},{"m":"b","p":6,"k":2,"x":25.8,"y":46.7},{"m":"b","p":6,"k":2,"x":27.5,"y":37.4},{"m":"b","p":6,"k":2,"x":29.1,"y":23.4},{"m":"b","p":6,"k":2,"x":32.4,"y":9.3},{"m":"b","p":6,"k":2,"x":37.4,"y":3.5},{"m":"b","p":6,"k":2,"x":48.9,"y":0.9},{"m":"b","p":6,"k":2,"x":100,"y":0.1},
{"m":"b","p":6,"k":3,"x":0,"y":0},{"m":"b","p":6,"k":3,"x":65,"y":1},{"m":"b","p":6,"k":3,"x":72,"y":3.9},{"m":"b","p":6,"k":3,"x":75,"y":10.3},{"m":"b","p":6,"k":3,"x":77,"y":25.9},{"m":"b","p":6,"k":3,"x":78,"y":41.4},{"m":"b","p":6,"k":3,"x":79,"y":51.7},{"m":"b","p":6,"k":3,"x":80,"y":41.4},{"m":"b","p":6,"k":3,"x":81,"y":25.9},{"m":"b","p":6,"k":3,"x":83,"y":10.3},{"m":"b","p":6,"k":3,"x":86,"y":3.9},{"m":"b","p":6,"k":3,"x":93,"y":1},{"m":"b","p":6,"k":3,"x":100,"y":0.5},

{"m":"b","p":7,"k":1,"x":0,"y":1.2},{"m":"b","p":7,"k":1,"x":6.1,"y":2.6},{"m":"b","p":7,"k":1,"x":12.8,"y":9.9},{"m":"b","p":7,"k":1,"x":15.6,"y":26.1},{"m":"b","p":7,"k":1,"x":17.5,"y":65.4},{"m":"b","p":7,"k":1,"x":18.5,"y":104.6},{"m":"b","p":7,"k":1,"x":19.4,"y":130.7},{"m":"b","p":7,"k":1,"x":20.4,"y":104.6},{"m":"b","p":7,"k":1,"x":21.3,"y":65.4},{"m":"b","p":7,"k":1,"x":23.2,"y":26.1},{"m":"b","p":7,"k":1,"x":26.1,"y":9.9},{"m":"b","p":7,"k":1,"x":32.7,"y":2.6},{"m":"b","p":7,"k":1,"x":100,"y":0},
{"m":"b","p":7,"k":2,"x":0,"y":0.2},{"m":"b","p":7,"k":2,"x":16.4,"y":1.1},{"m":"b","p":7,"k":2,"x":22.7,"y":4},{"m":"b","p":7,"k":2,"x":25.4,"y":10.6},{"m":"b","p":7,"k":2,"x":27.2,"y":26.5},{"m":"b","p":7,"k":2,"x":28.1,"y":42.4},{"m":"b","p":7,"k":2,"x":29,"y":53},{"m":"b","p":7,"k":2,"x":29.9,"y":42.4},{"m":"b","p":7,"k":2,"x":30.8,"y":26.5},{"m":"b","p":7,"k":2,"x":32.6,"y":10.6},{"m":"b","p":7,"k":2,"x":35.3,"y":4},{"m":"b","p":7,"k":2,"x":41.6,"y":1.1},{"m":"b","p":7,"k":2,"x":100,"y":0},
{"m":"b","p":7,"k":3,"x":0,"y":0},{"m":"b","p":7,"k":3,"x":69.4,"y":1},{"m":"b","p":7,"k":3,"x":75.7,"y":3.7},{"m":"b","p":7,"k":3,"x":78.4,"y":9.8},{"m":"b","p":7,"k":3,"x":80.2,"y":24.5},{"m":"b","p":7,"k":3,"x":81.1,"y":39.2},{"m":"b","p":7,"k":3,"x":82,"y":49},{"m":"b","p":7,"k":3,"x":82.9,"y":39.2},{"m":"b","p":7,"k":3,"x":83.8,"y":24.5},{"m":"b","p":7,"k":3,"x":85.6,"y":9.8},{"m":"b","p":7,"k":3,"x":88.3,"y":3.7},{"m":"b","p":7,"k":3,"x":94.6,"y":1},{"m":"b","p":7,"k":3,"x":100,"y":0.5},

{"m":"b","p":8,"k":1,"x":0,"y":2.8},{"m":"b","p":8,"k":1,"x":8.2,"y":9.2},{"m":"b","p":8,"k":1,"x":12.2,"y":24.3},{"m":"b","p":8,"k":1,"x":14.9,"y":60.9},{"m":"b","p":8,"k":1,"x":16.3,"y":97.4},{"m":"b","p":8,"k":1,"x":17.6,"y":121.7},{"m":"b","p":8,"k":1,"x":19,"y":97.4},{"m":"b","p":8,"k":1,"x":20.3,"y":60.9},{"m":"b","p":8,"k":1,"x":23,"y":24.3},{"m":"b","p":8,"k":1,"x":27.1,"y":9.2},{"m":"b","p":8,"k":1,"x":36.5,"y":2.4},{"m":"b","p":8,"k":1,"x":50,"y":0.8},{"m":"b","p":8,"k":1,"x":100,"y":0.1},
{"m":"b","p":8,"k":2,"x":0,"y":0.1},{"m":"b","p":8,"k":2,"x":16.7,"y":0.5},{"m":"b","p":8,"k":2,"x":22,"y":2},{"m":"b","p":8,"k":2,"x":24.2,"y":5.3},{"m":"b","p":8,"k":2,"x":25.7,"y":13.4},{"m":"b","p":8,"k":2,"x":26.5,"y":21.4},{"m":"b","p":8,"k":2,"x":27.2,"y":26.7},{"m":"b","p":8,"k":2,"x":28,"y":21.4},{"m":"b","p":8,"k":2,"x":28.7,"y":13.4},{"m":"b","p":8,"k":2,"x":30.2,"y":5.3},{"m":"b","p":8,"k":2,"x":32.5,"y":2},{"m":"b","p":8,"k":2,"x":37.7,"y":0.5},{"m":"b","p":8,"k":2,"x":100,"y":0},
{"m":"b","p":8,"k":3,"x":0,"y":0},{"m":"b","p":8,"k":3,"x":66.4,"y":0.4},{"m":"b","p":8,"k":3,"x":73.4,"y":1.4},{"m":"b","p":8,"k":3,"x":76.4,"y":3.8},{"m":"b","p":8,"k":3,"x":78.4,"y":9.5},{"m":"b","p":8,"k":3,"x":79.4,"y":15.2},{"m":"b","p":8,"k":3,"x":80.4,"y":19},{"m":"b","p":8,"k":3,"x":81.4,"y":15.2},{"m":"b","p":8,"k":3,"x":82.4,"y":9.5},{"m":"b","p":8,"k":3,"x":84.4,"y":3.8},{"m":"b","p":8,"k":3,"x":87.4,"y":1.4},{"m":"b","p":8,"k":3,"x":94.4,"y":0.4},{"m":"b","p":8,"k":3,"x":100,"y":0.2},

{"m":"b","p":9,"k":1,"x":0,"y":0.7},{"m":"b","p":9,"k":1,"x":1.9,"y":0.9},{"m":"b","p":9,"k":1,"x":9.6,"y":3.5},{"m":"b","p":9,"k":1,"x":12.9,"y":9.3},{"m":"b","p":9,"k":1,"x":15.1,"y":23.4},{"m":"b","p":9,"k":1,"x":16.2,"y":37.4},{"m":"b","p":9,"k":1,"x":17.3,"y":46.7},{"m":"b","p":9,"k":1,"x":18.4,"y":37.4},{"m":"b","p":9,"k":1,"x":19.5,"y":23.4},{"m":"b","p":9,"k":1,"x":21.7,"y":9.3},{"m":"b","p":9,"k":1,"x":25,"y":3.5},{"m":"b","p":9,"k":1,"x":32.7,"y":0.9},{"m":"b","p":9,"k":1,"x":100,"y":0},
{"m":"b","p":9,"k":2,"x":0,"y":0.4},{"m":"b","p":9,"k":2,"x":4.8,"y":0.6},{"m":"b","p":9,"k":2,"x":15.3,"y":2.4},{"m":"b","p":9,"k":2,"x":19.8,"y":6.5},{"m":"b","p":9,"k":2,"x":22.8,"y":16.2},{"m":"b","p":9,"k":2,"x":24.3,"y":25.8},{"m":"b","p":9,"k":2,"x":25.8,"y":32.3},{"m":"b","p":9,"k":2,"x":27.3,"y":25.8},{"m":"b","p":9,"k":2,"x":28.8,"y":16.2},{"m":"b","p":9,"k":2,"x":31.8,"y":6.5},{"m":"b","p":9,"k":2,"x":36.3,"y":2.4},{"m":"b","p":9,"k":2,"x":46.8,"y":0.6},{"m":"b","p":9,"k":2,"x":100,"y":0},
{"m":"b","p":9,"k":3,"x":0,"y":0},{"m":"b","p":9,"k":3,"x":61.5,"y":0.3},{"m":"b","p":9,"k":3,"x":70.3,"y":1},{"m":"b","p":9,"k":3,"x":74,"y":2.5},{"m":"b","p":9,"k":3,"x":76.5,"y":6.4},{"m":"b","p":9,"k":3,"x":77.8,"y":10.2},{"m":"b","p":9,"k":3,"x":79,"y":12.7},{"m":"b","p":9,"k":3,"x":80.3,"y":10.2},{"m":"b","p":9,"k":3,"x":81.5,"y":6.4},{"m":"b","p":9,"k":3,"x":84,"y":2.5},{"m":"b","p":9,"k":3,"x":87.8,"y":1},{"m":"b","p":9,"k":3,"x":96.5,"y":0.3},{"m":"b","p":9,"k":3,"x":100,"y":0.2}
]},
"hconcat": [
{
"data": {"name": "s"},
"transform": [{"filter": "datum.m == 'g' || datum.m == 'a'"}],
"title": {"text": "(a) Single voxel (AMARES)", "orient": "bottom", "anchor": "middle", "offset": 23, "dx": -45, "baseline": "top", "font": "Liberation Serif", "fontSize": 18.5, "fontWeight": "normal", "color": "black"},
"facet": {"field": "p", "type": "ordinal", "title": null, "header": {"labels": false, "title": null, "labelPadding": 0, "labelFontSize": 0, "labelExpr": "''"}},
"columns": 3,
"spacing": {"row": 8, "column": 10.5},
"spec": {
"width": 162, "height": 156,
"layer": [
{"transform": [{"filter": "datum.m == 'g'"}],
"mark": {"type": "line", "color": "#999999", "strokeWidth": 0.9},
"encoding": {"x": {"field": "x", "type": "quantitative", "scale": {"domain": [-5.48, 105.48], "nice": false, "zero": false}, "axis": null},
"y": {"field": "y", "type": "quantitative", "scale": {"domain": [-17, 139], "nice": false, "zero": false}, "axis": null}}},
{"transform": [{"filter": "datum.m != 'g'"}],
"mark": {"type": "line", "color": "black", "strokeWidth": 1.2, "interpolate": "monotone"},
"encoding": {"x": {"field": "x", "type": "quantitative", "scale": {"domain": [-5.48, 105.48], "nice": false, "zero": false}, "axis": null},
"y": {"field": "y", "type": "quantitative", "scale": {"domain": [-17, 139], "nice": false, "zero": false}, "axis": null},
"detail": {"field": "k", "type": "nominal"}}}
]
}
},
{
"data": {"name": "s"},
"transform": [{"filter": "datum.m == 'g' || datum.m == 'b'"}],
"title": {"text": "(b) Spatial prior (GMRF)", "orient": "bottom", "anchor": "middle", "offset": 23, "dx": -70, "baseline": "top", "font": "Liberation Serif", "fontSize": 18.5, "fontWeight": "normal", "color": "black"},
"facet": {"field": "p", "type": "ordinal", "title": null, "header": {"labels": false, "title": null, "labelPadding": 0, "labelFontSize": 0, "labelExpr": "''"}},
"columns": 3,
"spacing": {"row": 8, "column": 10.5},
"spec": {
"width": 162, "height": 156,
"layer": [
{"transform": [{"filter": "datum.m == 'g'"}],
"mark": {"type": "line", "color": "#999999", "strokeWidth": 0.9},
"encoding": {"x": {"field": "x", "type": "quantitative", "scale": {"domain": [-5.48, 105.48], "nice": false, "zero": false}, "axis": null},
"y": {"field": "y", "type": "quantitative", "scale": {"domain": [-17, 139], "nice": false, "zero": false}, "axis": null}}},
{"transform": [{"filter": "datum.m != 'g'"}],
"mark": {"type": "line", "color": "black", "strokeWidth": 1.2, "interpolate": "monotone"},
"encoding": {"x": {"field": "x", "type": "quantitative", "scale": {"domain": [-5.48, 105.48], "nice": false, "zero": false}, "axis": null},
"y": {"field": "y", "type": "quantitative", "scale": {"domain": [-17, 139], "nice": false, "zero": false}, "axis": null},
"detail": {"field": "k", "type": "nominal"}}}
]
}
}
]
}
